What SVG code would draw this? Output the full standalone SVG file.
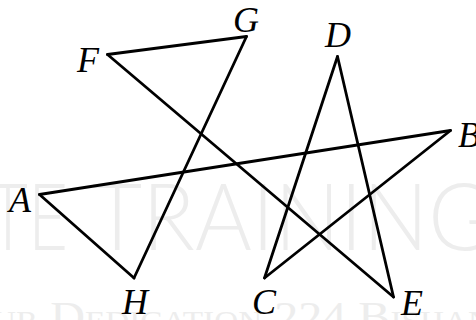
<svg xmlns="http://www.w3.org/2000/svg" width="476" height="320" viewBox="0 0 476 320">
  <style>
    .wm { fill: #ededed; font-family: Lato, "Liberation Sans", Arial, sans-serif; font-weight: 300; }
    .wm2 { fill: #ededed; font-family: "Liberation Serif", "Times New Roman", serif; font-variant: small-caps; }
    .edge { stroke: #000; stroke-width: 2.8; stroke-linecap: round; fill: none; }
    .lbl { font-family: "Liberation Serif", "Times New Roman", serif; font-style: italic; font-size: 36px; fill: #000; }
  </style>
  <rect width="476" height="320" fill="#fff"/>
  <g id="watermark">
    <text class="wm" x="-12" y="250" font-size="92" textLength="80" lengthAdjust="spacingAndGlyphs">TE</text>
    <text class="wm" x="92" y="250" font-size="92" textLength="400" lengthAdjust="spacingAndGlyphs">TRAINING</text>
    <text class="wm2" x="-8" y="331" font-size="42" textLength="500" lengthAdjust="spacingAndGlyphs">ur Dedication 224 Bishan</text>
  </g>
  <g id="connectors">
    <line class="edge" x1="107.5" y1="54.5" x2="246.5" y2="36.5"/>
    <line class="edge" x1="246.5" y1="36.5" x2="134" y2="278"/>
    <line class="edge" x1="134" y1="278" x2="39.5" y2="194.5"/>
    <line class="edge" x1="39.5" y1="194.5" x2="450.5" y2="130.5"/>
    <line class="edge" x1="450.5" y1="130.5" x2="264.5" y2="278"/>
    <line class="edge" x1="264.5" y1="278" x2="337.5" y2="56.5"/>
    <line class="edge" x1="337.5" y1="56.5" x2="393.5" y2="297"/>
    <line class="edge" x1="393.5" y1="297" x2="107.5" y2="54.5"/>
  </g>
  <g id="node-A"><text class="lbl" x="9" y="212">A</text></g>
  <g id="node-B"><text class="lbl" x="458" y="147">B</text></g>
  <g id="node-C"><text class="lbl" x="252" y="314">C</text></g>
  <g id="node-D"><text class="lbl" x="325" y="47">D</text></g>
  <g id="node-E"><text class="lbl" x="401" y="315">E</text></g>
  <g id="node-F"><text class="lbl" x="77" y="72">F</text></g>
  <g id="node-G"><text class="lbl" x="233" y="32">G</text></g>
  <g id="node-H"><text class="lbl" x="122" y="314">H</text></g>
</svg>
